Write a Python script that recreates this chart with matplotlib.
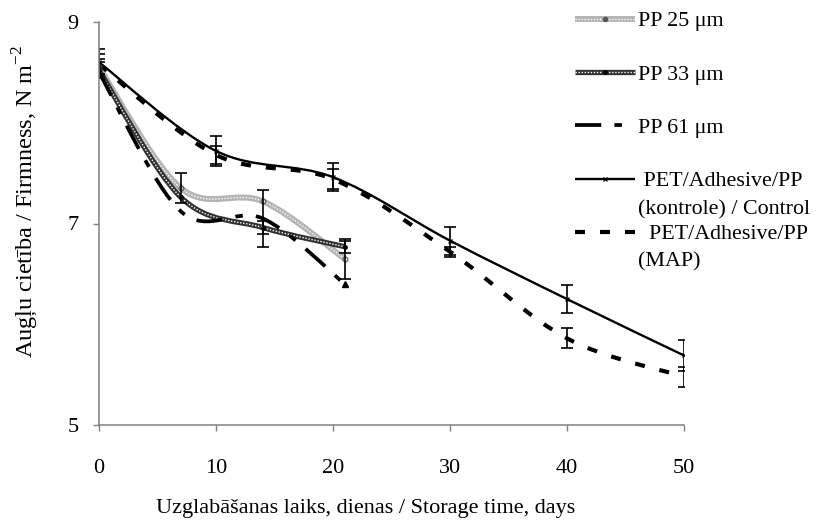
import numpy as np
import matplotlib
matplotlib.use('Agg')
import matplotlib.pyplot as plt
from matplotlib.path import Path
from matplotlib.patches import PathPatch
from matplotlib.lines import Line2D

plt.rcParams['font.family'] = ['Liberation Serif', 'DejaVu Serif']
plt.rcParams['mathtext.fontset'] = 'custom'
plt.rcParams['mathtext.rm'] = 'Liberation Serif'

# data
days_pp = [0, 7, 14, 21]
pp25 = [8.55, 7.35, 7.22, 6.65]
pp33 = [8.52, 7.26, 6.96, 6.77]
pp61 = [8.50, 7.12, 7.05, 6.40]
pp25_err = [0.08, 0.15, np.nan, 0.20]
pp33_err = [0.08, np.nan, 0.06, 0.06]
pp61_err = [np.nan, np.nan, 0.28, np.nan]

days_pet = [0, 10, 20, 30, 40, 50]
control = [8.60, 7.72, 7.46, 6.83, 6.25, 5.69]
map_pack = [8.58, 7.68, 7.44, 6.72, 5.86, 5.48]
control_err = [0.13, 0.15, 0.14, 0.14, 0.14, 0.15]
map_err = [0.10, 0.09, 0.10, 0.05, 0.10, 0.10]

labels = ['PP 25 \u03bcm', 'PP 33 \u03bcm', 'PP 61 \u03bcm',
          ' PET/Adhesive/PP', '  PET/Adhesive/PP']


def smooth_path(x, y):
    # excel-like smoothed line (bezier through the points)
    pts = np.column_stack([x, y]).astype(float)
    ext = np.vstack([pts[0], pts, pts[-1]])
    verts = [pts[0]]
    codes = [Path.MOVETO]
    for i in range(len(pts) - 1):
        p0, p1, p2, p3 = ext[i], ext[i + 1], ext[i + 2], ext[i + 3]
        verts += [p1 + (p2 - p0) / 6, p2 - (p3 - p1) / 6, p2]
        codes += [Path.CURVE4] * 3
    return Path(verts, codes)


def draw(ax, x, y, **kw):
    ax.add_patch(PathPatch(smooth_path(x, y), fill=False, capstyle='butt', **kw))


fig = plt.figure(figsize=(8.21, 5.2), dpi=100)
ax = fig.add_axes([99 / 821, 1 - 425 / 520, 585 / 821, 403 / 520])

# styles
s25 = dict(edgecolor='#b4b4b4', linewidth=4.3)
s25o = dict(edgecolor='#ffffff', linewidth=1.0, linestyle=(0, (1, 1.2)))
s33 = dict(edgecolor='#303030', linewidth=3.8)
s33o = dict(edgecolor='#ffffff', linewidth=1.0, linestyle=(0, (1, 1.2)))
s61 = dict(edgecolor='black', linewidth=2.7, linestyle=(0, (7, 3.5, 2, 3.5)))
sctl = dict(edgecolor='black', linewidth=1.7)
smap = dict(edgecolor='black', linewidth=3.0, linestyle=(0, (2.4, 3.6)))

draw(ax, days_pp, pp25, **s25)
draw(ax, days_pp, pp25, **s25o)
draw(ax, days_pp, pp33, **s33)
draw(ax, days_pp, pp33, **s33o)
draw(ax, days_pp, pp61, **s61)
draw(ax, days_pet, control, **sctl)
draw(ax, days_pet, map_pack, **smap)

ax.plot(days_pp, pp25, ls='none', marker='o', ms=3.5, mfc='none', mec='#555555', mew=0.8)
ax.plot(days_pp, pp33, ls='none', marker='o', ms=2.5, color='black')
ax.plot(days_pp[-1:], pp61[-1:], ls='none', marker='^', ms=4, color='black')
ax.plot(days_pet, control, ls='none', marker='x', ms=3.5, mew=0.9, color='black')

eb = dict(fmt='none', ecolor='black', elinewidth=1.2, capsize=4.5, capthick=1.2)
ax.errorbar(days_pp, pp25, yerr=pp25_err, **eb)
ax.errorbar(days_pp, pp33, yerr=pp33_err, **eb)
ax.errorbar(days_pp, pp61, yerr=pp61_err, **eb)
ax.errorbar(days_pet, control, yerr=control_err, **eb)
ax.errorbar(days_pet, map_pack, yerr=map_err, **eb)

ax.set_xlim(0, 50)
ax.set_ylim(5, 9)
ax.set_xticks([0, 10, 20, 30, 40, 50])
ax.set_yticks([5, 7, 9])
for s in ['top', 'right']:
    ax.spines[s].set_visible(False)
for s in ['left', 'bottom']:
    ax.spines[s].set_color('#808080')
    ax.spines[s].set_linewidth(1.1)
ax.tick_params(axis='both', direction='out', length=4.5, width=1.0, color='#808080',
               labelsize=16)
ax.tick_params(axis='x', pad=20)
ax.tick_params(axis='y', pad=10)

fig.text(366 / 821, 1 - 508 / 520, 'Uzglabāšanas laiks, dienas / Storage time, days',
         ha='center', va='center', fontsize=16)
fig.text(25 / 821, 1 - 201 / 520, 'Augļu cietība / Firmness, N m$^{\\mathregular{-2}}$',
         ha='center', va='center', rotation=90, fontsize=17.5)

def h(**kw):
    kw = dict(kw)
    kw['color'] = kw.pop('edgecolor')
    return Line2D([], [], solid_capstyle='butt', dash_capstyle='butt', **kw)

handles = [
    (h(**s25), h(**s25o, marker='o', ms=3, mfc='#555555', mec='#555555')),
    (h(**s33), h(**s33o, marker='o', ms=2.5, mfc='black', mec='black')),
    h(**s61),
    h(**sctl, marker='x', ms=3.5, mew=0.9),
    h(**smap),
]
leg = fig.legend(handles, labels, loc='upper left', bbox_to_anchor=(575 / 821, 1 - 11 / 520),
                 bbox_transform=fig.transFigure, frameon=False, fontsize=15.8,
                 borderpad=0, borderaxespad=0, handlelength=2.75, handletextpad=0.1,
                 labelspacing=1.5)
fig.text(638 / 821, 1 - 210 / 520, '(kontrole) / Control', ha='left', va='center', fontsize=15.8)
fig.text(638 / 821, 1 - 262 / 520, '(MAP)', ha='left', va='center', fontsize=15.8)

fig.savefig('out.png', dpi=100)
